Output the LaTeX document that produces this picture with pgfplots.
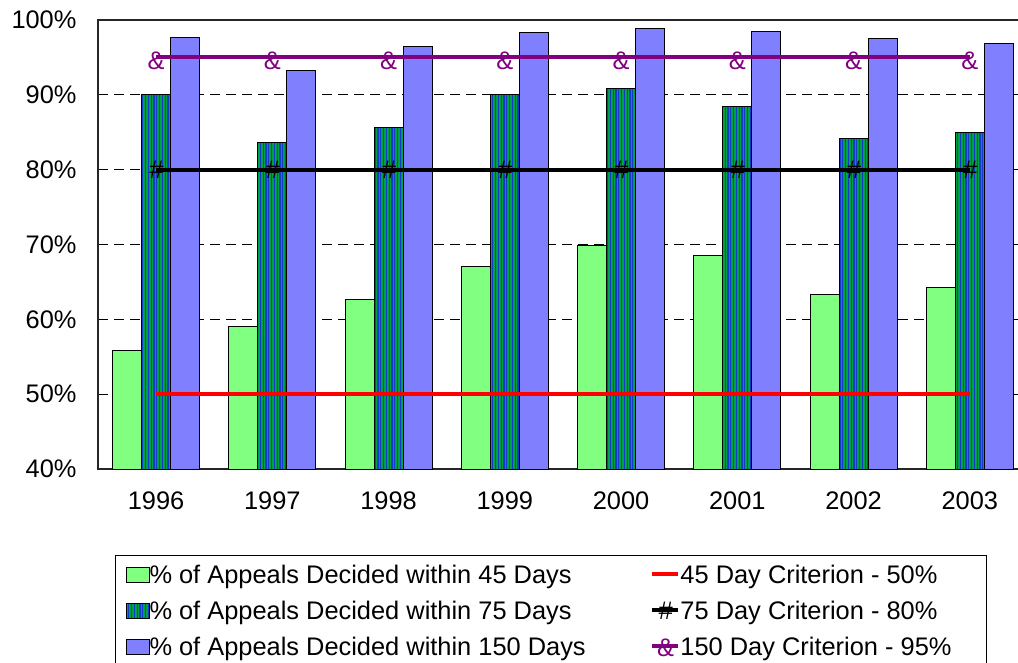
\documentclass[border=0pt]{standalone}
\usepackage{fontspec}
\setmainfont{Liberation Sans}
\usepackage{pgfplots}
\usepackage{pgfplotstable}
\pgfplotsset{compat=1.18}
\usetikzlibrary{patterns,patterns.meta}
\definecolor{lgreen}{RGB}{128,255,128}
\definecolor{lblue}{RGB}{128,128,255}
\definecolor{sgreen}{RGB}{0,160,70}
\definecolor{sblue}{RGB}{20,60,200}
\definecolor{cpurple}{RGB}{128,0,128}
\newcommand{\bigf}{\fontsize{25.4}{30}\selectfont}

\pgfplotstableread{
x g t b
0 55.8 90.0 97.7
1 59.0 83.6 93.2
2 62.7 85.6 96.4
3 67.1 90.0 98.3
4 69.8 90.9 98.8
5 68.5 88.4 98.4
6 63.3 84.1 97.5
7 64.2 85.0 96.9
}\data

\begin{document}
\begin{tikzpicture}
\useasboundingbox (0pt,0pt) rectangle (1018pt,662pt);
\begin{axis}[
  at={(98pt,193pt)}, anchor=south west,
  scale only axis, width=930pt, height=449pt,
  xmin=-0.5, xmax=7.5, ymin=40, ymax=100,
  ytick={40,50,...,100},
  yticklabels={40\%,50\%,60\%,70\%,80\%,90\%,100\%},
  xtick={0,...,7},
  xticklabels={1996,1997,1998,1999,2000,2001,2002,2003},
  tick label style={font=\bigf},
  yticklabel style={xshift=-18pt},
  xticklabel style={yshift=-19pt},
  xtick style={draw=none},
  ytick style={black, line width=1pt},
  major tick length=6pt, tick align=inside,
  axis line style={black!85, line width=1.3pt},
  ymajorgrids,
  major grid style={black, line width=1pt, dash pattern=on 10pt off 6pt},
  legend style={at={(0.01828,-0.19154)}, anchor=north west, draw=black, line width=1pt,
    inner xsep=10pt, inner ysep=9.5pt,
    nodes={inner sep=0pt, font=\bigf, text height=18pt, text depth=6pt},
    row sep=12pt},
  legend columns=2,
  legend cell align=left,
]
\addlegendimage{legend image code/.code={\draw[fill=lgreen,draw=black,line width=1pt] (0pt,-5pt) rectangle (23pt,10pt);}}
\addlegendentry{\makebox[501pt][l]{\% of Appeals Decided within 45 Days}}
\addlegendimage{legend image code/.code={\draw[red,line width=4pt] (0pt,3pt) -- (26pt,3pt);}}
\addlegendentry{\makebox[296pt][l]{45 Day Criterion - 50\%}}
\addlegendimage{legend image code/.code={\draw[fill=sgreen,draw=black,line width=1pt,postaction={pattern={Lines[angle=90,distance=2.8pt,line width=1.1pt]},pattern color=sblue}] (0pt,-5pt) rectangle (23pt,10pt);}}
\addlegendentry{\makebox[501pt][l]{\% of Appeals Decided within 75 Days}}
\addlegendimage{legend image code/.code={\draw[black,line width=4pt] (0pt,3pt) -- (26pt,3pt); \node[inner sep=0pt,font=\bigf\itshape,text height=18pt,text depth=0pt,anchor=center] at (13pt,3pt) {\#};}}
\addlegendentry{\makebox[296pt][l]{75 Day Criterion - 80\%}}
\addlegendimage{legend image code/.code={\draw[fill=lblue,draw=black,line width=1pt] (0pt,-5pt) rectangle (23pt,10pt);}}
\addlegendentry{\makebox[501pt][l]{\% of Appeals Decided within 150 Days}}
\addlegendimage{legend image code/.code={\draw[cpurple,line width=4pt] (0pt,3pt) -- (26pt,3pt); \node[inner sep=0pt,font=\bigf,text=cpurple,text height=18pt,text depth=0pt,anchor=center] at (13pt,2pt) {\&};}}
\addlegendentry{\makebox[296pt][l]{150 Day Criterion - 95\%}}

\addplot[ybar, bar width=29pt, bar shift=-29pt, fill=lgreen, draw=black, line width=1pt, forget plot] table[x=x,y=g]{\data};
\addplot[ybar, bar width=29pt, bar shift=0pt, fill=sgreen, draw=black, line width=1pt,
  postaction={pattern={Lines[angle=90,distance=2.8pt,line width=1.1pt]},pattern color=sblue}, forget plot] table[x=x,y=t]{\data};
\addplot[ybar, bar width=29pt, bar shift=29pt, fill=lblue, draw=black, line width=1pt, forget plot] table[x=x,y=b]{\data};

\addplot[red, line width=4pt, forget plot] coordinates {(0,50) (7,50)};
\addplot[black, line width=4pt, mark=text, text mark={\#}, text mark as node=true,
  text mark style={font=\bigf\itshape, text=black, inner sep=0pt}, forget plot]
  coordinates {(0,80) (1,80) (2,80) (3,80) (4,80) (5,80) (6,80) (7,80)};
\addplot[cpurple, line width=4pt, mark=text, text mark={\&}, text mark as node=true,
  text mark style={font=\bigf, text=cpurple, inner sep=0pt, yshift=-3pt}, forget plot]
  coordinates {(0,95) (1,95) (2,95) (3,95) (4,95) (5,95) (6,95) (7,95)};
\end{axis}
\end{tikzpicture}
\end{document}
